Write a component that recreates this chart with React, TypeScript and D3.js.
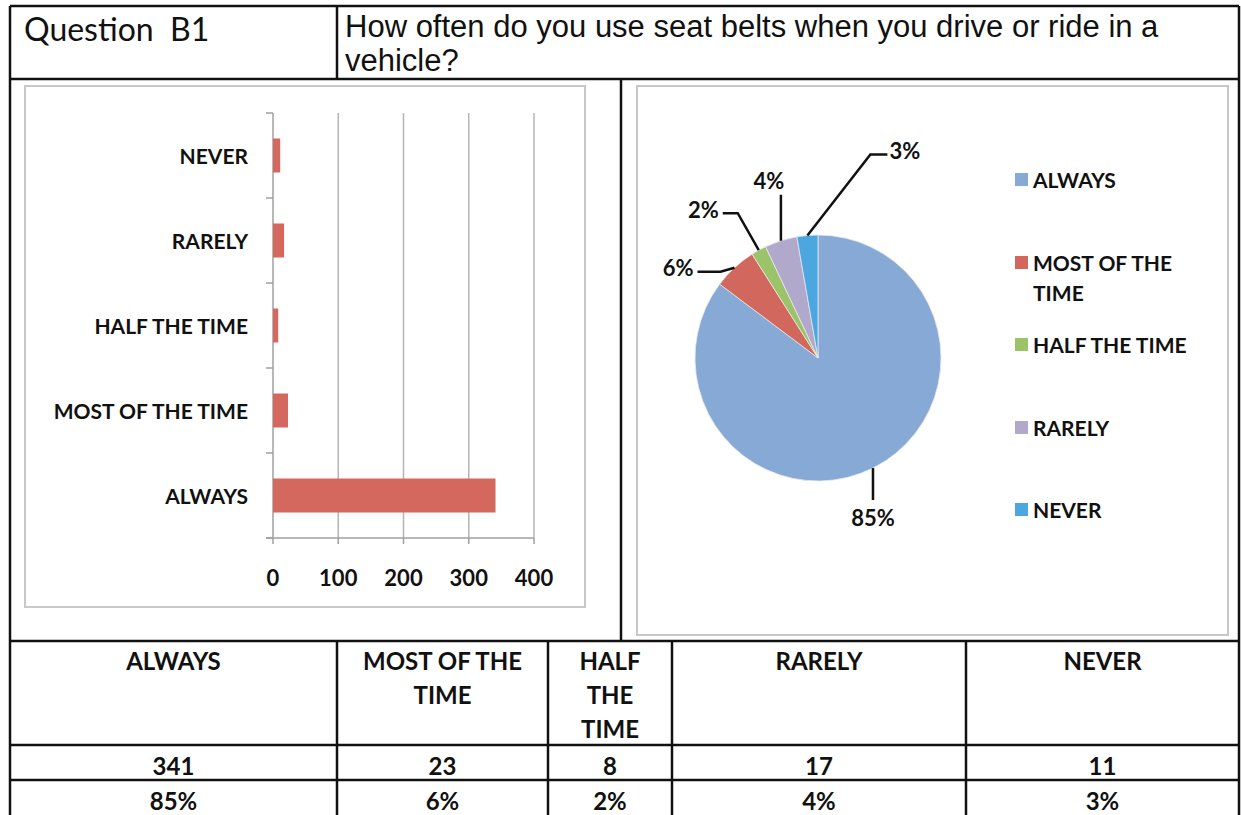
import React from "react";
import * as d3 from "d3";

const categories = ["ALWAYS", "MOST OF THE TIME", "HALF THE TIME", "RARELY", "NEVER"];
const counts = [341, 23, 8, 17, 11];
const percentLabels = ["85%", "6%", "2%", "4%", "3%"];
const xTicks = [0, 100, 200, 300, 400];
const headerLines = [["ALWAYS"], ["MOST OF THE", "TIME"], ["HALF", "THE", "TIME"], ["RARELY"], ["NEVER"]];
const legendLines = [["ALWAYS"], ["MOST OF THE", "TIME"], ["HALF THE TIME"], ["RARELY"], ["NEVER"]];
const pieColors = ["#86a9d5", "#d2675e", "#9bc46a", "#b1a9cc", "#4ca6e0"];
const barColor = "#d4685f";

const FONT = "Lato, 'Open Sans', sans-serif";
const ARIAL = "'Liberation Sans', Arial, sans-serif";

// label layout for pie (offset points of leader lines & text anchor)
const pieLabelLayout = [
  { bend: [0, 32], end: [0, 32], text: [0, 58], anchor: "middle" },
  { bend: [-14, 4], end: [-37, 4], text: [-41, 8], anchor: "end" },
  { bend: [-21, -37], end: [-36, -37], text: [-40, -32], anchor: "end" },
  { bend: [0, -46], end: [0, -46], text: [-12, -52], anchor: "middle" },
  { bend: [63, -81], end: [80, -81], text: [82, -76], anchor: "start" },
];

export default function App() {
  const W = 1241, H = 815;
  // bar chart scales
  const x = d3.scaleLinear().domain([0, 400]).range([273, 534]);
  const yOrder = [...categories].reverse();
  const y = d3.scaleBand().domain(yOrder).range([113, 538]).paddingInner(0.6).paddingOuter(0.3);
  const step = y.step();
  const boundaries = d3.range(yOrder.length + 1).map((i) => 113 + i * step);

  // pie
  const cx = 818, cy = 358, R = 123;
  const pie = d3.pie<number>().sort(null).value((d) => d);
  const arcs = pie(counts);
  const arcGen = d3.arc<d3.PieArcDatum<number>>().innerRadius(0).outerRadius(R);

  const colX = [10, 337, 548, 672, 966, 1239];
  const rowY = [641, 745, 780, 815];

  return (
    <svg width={W} height={H} style={{ position: "absolute", left: 0, top: 0, background: "#fff" }}>
      <rect x={0} y={0} width={W} height={H} fill="#fff" />
      {/* Header */}
      <text x={24} y={41} fontFamily={FONT} fontSize={32} fill="#111" style={{ whiteSpace: "pre" }}>
        {"Question  B1"}
      </text>
      <text x={345} y={37} fontFamily={ARIAL} fontSize={31} fill="#111">
        How often do you use seat belts when you drive or ride in a
      </text>
      <text x={345} y={71} fontFamily={ARIAL} fontSize={31} fill="#111">
        vehicle?
      </text>

      {/* left chart box */}
      <rect x={25} y={86} width={560} height={521} fill="none" stroke="#c8c8c8" strokeWidth={2} />
      {/* gridlines */}
      {xTicks.slice(1).map((t) => (
        <line key={t} x1={x(t)} x2={x(t)} y1={113} y2={538} stroke="#b5b5b5" strokeWidth={1.5} />
      ))}
      {/* y axis */}
      <line x1={273} x2={273} y1={113} y2={538} stroke="#a0a0a0" strokeWidth={1.5} />
      {boundaries.map((b, i) => (
        <line key={i} x1={266} x2={273} y1={b} y2={b} stroke="#a0a0a0" strokeWidth={1.5} />
      ))}
      {/* x axis */}
      <line x1={266} x2={x(400)} y1={538} y2={538} stroke="#a0a0a0" strokeWidth={1.5} />
      {xTicks.map((t) => (
        <line key={t} x1={x(t)} x2={x(t)} y1={538} y2={544} stroke="#a0a0a0" strokeWidth={1.5} />
      ))}
      {xTicks.map((t) => (
        <text key={t} x={x(t)} y={586} textAnchor="middle" fontFamily={FONT} fontWeight={700} fontSize={22} fill="#111">
          {t}
        </text>
      ))}
      {categories.map((c, i) => (
        <g key={c}>
          <rect x={x(0)} y={y(c)!} width={x(counts[i]) - x(0)} height={y.bandwidth()} fill={barColor} />
          <text x={248} y={y(c)! + y.bandwidth() / 2 + 8} textAnchor="end" fontFamily={FONT} fontWeight={700} fontSize={21} fill="#111">
            {c}
          </text>
        </g>
      ))}

      {/* right chart box */}
      <rect x={637} y={86} width={591} height={549} fill="none" stroke="#c8c8c8" strokeWidth={2} />
      <g transform={`translate(${cx},${cy})`}>
        {arcs.map((a, i) => (
          <path key={i} d={arcGen(a)!} fill={pieColors[i]} stroke="#e8e8e8" strokeWidth={0.8} />
        ))}
        {arcs.map((a, i) => {
          const mid = (a.startAngle + a.endAngle) / 2;
          const sx = Math.sin(mid) * R;
          const sy = -Math.cos(mid) * R;
          const L = pieLabelLayout[i];
          const bx = sx + L.bend[0], by = sy + L.bend[1];
          const ex = sx + L.end[0], ey = sy + L.end[1];
          return (
            <g key={"l" + i}>
              <polyline points={`${sx},${sy} ${bx},${by} ${ex},${ey}`} fill="none" stroke="#111" strokeWidth={2.5} />
              <text x={sx + L.text[0]} y={sy + L.text[1]} textAnchor={L.anchor as any} fontFamily={FONT} fontWeight={700} fontSize={22} fill="#111">
                {percentLabels[i]}
              </text>
            </g>
          );
        })}
      </g>
      {/* legend */}
      {legendLines.map((lines, i) => {
        const ys = [180, 263, 345, 428, 510];
        return (
          <g key={i}>
            <rect x={1015} y={ys[i] - 7} width={13} height={13} fill={pieColors[i]} />
            {lines.map((l, j) => (
              <text key={j} x={1033} y={ys[i] + 8 + j * 30} fontFamily={FONT} fontWeight={700} fontSize={21} fill="#111">
                {l}
              </text>
            ))}
          </g>
        );
      })}

      {/* bottom table */}
      {categories.map((c, i) => {
        const mx = (colX[i] + colX[i + 1]) / 2;
        return (
          <g key={"t" + i}>
            {headerLines[i].map((l, j) => (
              <text key={j} x={mx} y={670 + j * 34} textAnchor="middle" fontFamily={FONT} fontWeight={700} fontSize={24} fill="#111">
                {l}
              </text>
            ))}
            <text x={mx} y={775} textAnchor="middle" fontFamily={FONT} fontWeight={700} fontSize={24} fill="#111">
              {counts[i]}
            </text>
            <text x={mx} y={810} textAnchor="middle" fontFamily={FONT} fontWeight={700} fontSize={24} fill="#111">
              {percentLabels[i]}
            </text>
          </g>
        );
      })}

      {/* table/frame lines */}
      <g stroke="#111" strokeWidth={2.5} fill="none">
        <line x1={10} x2={1239} y1={6} y2={6} />
        <line x1={10} x2={1239} y1={79} y2={79} />
        <line x1={10} x2={10} y1={6} y2={815} />
        <line x1={1239} x2={1239} y1={6} y2={815} />
        <line x1={337} x2={337} y1={6} y2={79} />
        <line x1={621} x2={621} y1={79} y2={641} />
        {rowY.slice(0, 3).map((r) => (
          <line key={r} x1={10} x2={1239} y1={r} y2={r} />
        ))}
        {colX.slice(1, 5).map((cxx) => (
          <line key={cxx} x1={cxx} x2={cxx} y1={641} y2={815} />
        ))}
      </g>
    </svg>
  );
}
